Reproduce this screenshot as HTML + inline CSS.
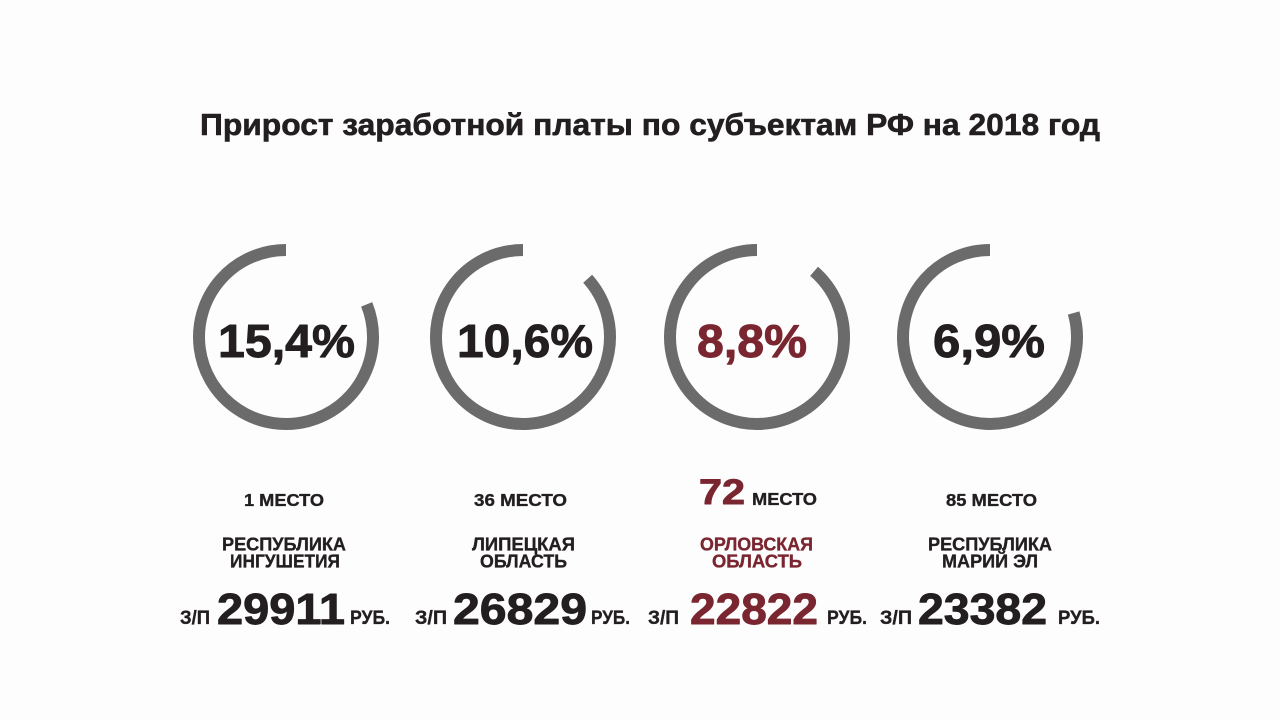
<!DOCTYPE html>
<html>
<head>
<meta charset="utf-8">
<style>
  html,body{margin:0;padding:0;background:#fdfdfd;}
  svg{display:block;}
  text{font-family:"Liberation Sans","DejaVu Sans",sans-serif;font-weight:bold;stroke-linejoin:round;}
  .d{fill:#231f20;stroke:#231f20;}
  .r{fill:#7a2630;stroke:#7a2630;}
  .s{stroke-width:0.35;}
  .m{stroke-width:0.6;}
  .b{stroke-width:0.9;}
</style>
</head>
<body>
<svg width="1280" height="720" viewBox="0 0 1280 720" xmlns="http://www.w3.org/2000/svg">
  <rect width="1280" height="720" fill="#fdfdfd"/>

  <!-- Title -->
  <text class="d m" x="200" y="135" font-size="31" textLength="900" lengthAdjust="spacingAndGlyphs">Прирост заработной платы по субъектам РФ на 2018 год</text>

  <!-- Arcs -->
  <g fill="none" stroke="#6b6b6b" stroke-width="12" stroke-linecap="butt">
    <path d="M366.67 304.41 A87 87 0 1 1 286 250"/>
    <path d="M587.65 278.79 A87 87 0 1 1 523 250"/>
    <path d="M814.08 271.34 A87 87 0 1 1 757 250"/>
    <path d="M1073.63 313.02 A87 87 0 1 1 990 250"/>
  </g>

  <!-- Percentages -->
  <text class="d b" x="218" y="357" font-size="46" textLength="137" lengthAdjust="spacingAndGlyphs">15,4%</text>
  <text class="d b" x="457" y="357" font-size="46" textLength="136" lengthAdjust="spacingAndGlyphs">10,6%</text>
  <text class="r b" x="697" y="357" font-size="46" textLength="110" lengthAdjust="spacingAndGlyphs">8,8%</text>
  <text class="d b" x="933" y="357" font-size="46" textLength="112" lengthAdjust="spacingAndGlyphs">6,9%</text>

  <!-- Places -->
  <text class="d s" x="244" y="506" font-size="17.5" textLength="80" lengthAdjust="spacingAndGlyphs">1 МЕСТО</text>
  <text class="d s" x="474" y="506" font-size="17.5" textLength="93" lengthAdjust="spacingAndGlyphs">36 МЕСТО</text>
  <text class="r b" x="699" y="504" font-size="35" textLength="46" lengthAdjust="spacingAndGlyphs">72</text>
  <text class="d s" x="752" y="505" font-size="17.5" textLength="65" lengthAdjust="spacingAndGlyphs">МЕСТО</text>
  <text class="d s" x="946" y="506" font-size="17.5" textLength="91" lengthAdjust="spacingAndGlyphs">85 МЕСТО</text>

  <!-- Names -->
  <text class="d s" x="222" y="550.5" font-size="18" textLength="124" lengthAdjust="spacingAndGlyphs">РЕСПУБЛИКА</text>
  <text class="d s" x="230" y="567.5" font-size="18" textLength="110" lengthAdjust="spacingAndGlyphs">ИНГУШЕТИЯ</text>

  <text class="d s" x="472" y="550.5" font-size="18" textLength="103" lengthAdjust="spacingAndGlyphs">ЛИПЕЦКАЯ</text>
  <text class="d s" x="480" y="567.5" font-size="18" textLength="87" lengthAdjust="spacingAndGlyphs">ОБЛАСТЬ</text>

  <text class="r s" x="700" y="550.5" font-size="18" textLength="113" lengthAdjust="spacingAndGlyphs">ОРЛОВСКАЯ</text>
  <text class="r s" x="712" y="567.5" font-size="18" textLength="90" lengthAdjust="spacingAndGlyphs">ОБЛАСТЬ</text>

  <text class="d s" x="928" y="550.5" font-size="18" textLength="124" lengthAdjust="spacingAndGlyphs">РЕСПУБЛИКА</text>
  <text class="d s" x="942" y="567.5" font-size="18" textLength="96" lengthAdjust="spacingAndGlyphs">МАРИЙ ЭЛ</text>

  <!-- Salaries -->
  <text class="d s" x="180" y="624" font-size="19" textLength="30" lengthAdjust="spacingAndGlyphs">З/П</text>
  <text class="d b" x="217" y="624" font-size="44" textLength="128" lengthAdjust="spacingAndGlyphs">29911</text>
  <text class="d s" x="350" y="624" font-size="19" textLength="40" lengthAdjust="spacingAndGlyphs">РУБ.</text>

  <text class="d s" x="415" y="624" font-size="19" textLength="32" lengthAdjust="spacingAndGlyphs">З/П</text>
  <text class="d b" x="453" y="624" font-size="44" textLength="134" lengthAdjust="spacingAndGlyphs">26829</text>
  <text class="d s" x="591" y="624" font-size="19" textLength="39" lengthAdjust="spacingAndGlyphs">РУБ.</text>

  <text class="d s" x="648" y="624" font-size="19" textLength="31" lengthAdjust="spacingAndGlyphs">З/П</text>
  <text class="r b" x="690" y="624" font-size="44" textLength="128" lengthAdjust="spacingAndGlyphs">22822</text>
  <text class="d s" x="827" y="624" font-size="19" textLength="40" lengthAdjust="spacingAndGlyphs">РУБ.</text>

  <text class="d s" x="880" y="624" font-size="19" textLength="32" lengthAdjust="spacingAndGlyphs">З/П</text>
  <text class="d b" x="918" y="624" font-size="44" textLength="129" lengthAdjust="spacingAndGlyphs">23382</text>
  <text class="d s" x="1058" y="624" font-size="19" textLength="42" lengthAdjust="spacingAndGlyphs">РУБ.</text>
</svg>
</body>
</html>
